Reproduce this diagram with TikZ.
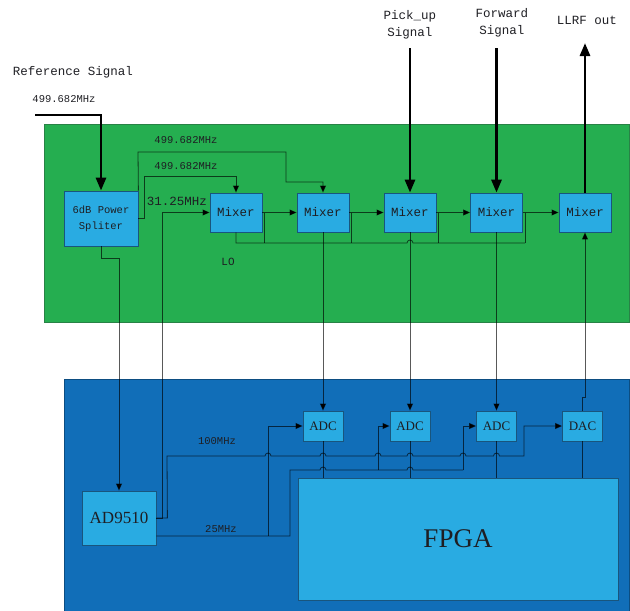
\documentclass[tikz,border=0pt]{standalone}
\usepackage{fontspec}
\setmainfont{Liberation Serif}
\newfontfamily\codefont{Liberation Mono}
\usetikzlibrary{arrows.meta,calc}
\definecolor{board}{RGB}{37,174,80}
\definecolor{boardline}{RGB}{40,130,70}
\definecolor{digital}{RGB}{17,110,184}
\definecolor{chip}{RGB}{41,171,226}
\definecolor{chipline}{RGB}{25,85,125}
\definecolor{ink}{RGB}{30,30,35}
\tikzset{
  >={Triangle[length=7pt,width=6pt]},
  chipbox/.style={draw=chipline,fill=chip,line width=0.8pt,text=ink,inner sep=0pt,
    align=center,font=\codefont\fontsize{12.5}{14}\selectfont},
  wire/.style={draw=black,draw opacity=0.65,line width=0.8pt},
  bigsig/.style={line width=2.8pt,-{Triangle[length=13pt,width=10pt]}},
  tag/.style={font=\codefont\fontsize{10.5}{12}\selectfont,text=ink},
  tag big/.style={font=\codefont\fontsize{12.5}{17}\selectfont,text=ink,align=center},
}

\begin{document}
\begin{tikzpicture}[x=1pt,y=-1pt]
  \useasboundingbox (0,0) rectangle (630,611);
  % boards
  \filldraw[fill=board,draw=boardline] (44,124) rectangle (629,322);
  \filldraw[fill=digital,draw=digital!70!black] (64,379) rectangle (629,611);

  % analog front end
  \node[chipbox,minimum width=74pt,minimum height=55pt,font=\codefont\fontsize{10.5}{16}\selectfont] (spl) at (101,218.5) {6dB Power\\Spliter};
  \foreach \n/\x in {m1/236,m2/323,m3/410,m4/496.5,m5/585}
    \node[chipbox,minimum width=52pt,minimum height=39pt] (\n) at (\x,212.5) {Mixer};

  % digital board
  \foreach \n/\x/\t in {adc1/323/ADC,adc2/410/ADC,adc3/496.5/ADC,dac/582.5/DAC}
    \node[chipbox,minimum width=40pt,minimum height=30pt,font=\fontsize{13}{14}\selectfont] (\n) at (\x,426) {\t};
  \node[chipbox,minimum width=74pt,minimum height=54pt,font=\fontsize{17}{20}\selectfont] (ad) at (119,518) {AD9510};
  \node[chipbox,minimum width=320pt,minimum height=122pt,font=\fontsize{27}{30}\selectfont] (fpga) at (458,539) {FPGA};

  % labels
  \node[tag big] (reftxt) at (73,72) {Reference Signal};
  \node[tag] (reffreq) at (64,99) {499.682MHz};
  \node[tag] (f1) at (186,140) {499.682MHz};
  \node[tag] (f2) at (186,166) {499.682MHz};
  \node[tag big] (f3) at (177,201) {31.25MHz};
  \node[tag,font=\codefont\fontsize{11}{12}\selectfont] (lotxt) at (228,262) {LO};
  \node[tag] (f4) at (217,441) {100MHz};
  \node[tag] (f5) at (221,529) {25MHz};
  \node[tag big] (putxt) at (410,24.5) {Pick\_up\\Signal};
  \node[tag big] (fwtxt) at (502,23) {Forward\\Signal};
  \node[tag big] (outtxt) at (587,20) {LLRF out};

  % external signals
  \coordinate (refin) at (35,115);
  \coordinate (puin) at (410,48);
  \coordinate (fwin) at (496.5,48);
  \coordinate (rfout) at (585,43);
  \draw[bigsig] (refin) -| (spl.north);
  \draw[bigsig] (puin) -- (m3.north);
  \draw[bigsig] (fwin) -- (m4.north);
  \draw[bigsig] (m5.north) -- (rfout);

  % splitter outputs
  \draw[wire,->] (spl.north east) -- (138,152) -- (286,152) -- (286,182) -| (m2.north);
  \draw[wire,->] (spl.east) -- ++(6,0) |- ($(m1.north)+(0,-16)$) -- (m1.north);
  \draw[wire,->] (spl.south) -- ++(0,12) -| (ad.north);

  % LO chain
  \draw[wire] (m1.south) |- (407,243) arc (180:360:3) -- (525,243);
  \foreach \a/\b in {m1/m2,m2/m3,m3/m4,m4/m5}{
    \draw[wire,->] (\a.east) -- (\b.west);
    \draw[wire] ($(\a.east)+(2,0)$) -- ++(0,30.5);
  }

  % clocks from AD9510
  \draw[wire,->] (ad.east) -- ++(6,0) |- (m1.west);
  \draw[wire,->] (ad.east) -- ++(11,0) -- (167,456)
    -- (265,456) arc (180:360:3) -- (320,456) arc (180:360:3)
    -- (375,456) arc (180:360:3) -- (407,456) arc (180:360:3)
    -- (460,456) arc (180:360:3) -- (493.5,456) arc (180:360:3)
    -- (524,456) |- (dac.west);
  \coordinate (clk) at ([yshift=-18pt]ad.east);
  \draw[wire] (clk) -| (290,470) -- (320,470) arc (180:360:3)
    -- (407,470) arc (180:360:3) -- (463,470);
  \draw[wire,->] (268,536) |- (adc1.west);
  \draw[wire,->] (378,470) |- (adc2.west);
  \draw[wire,->] (463,470) |- (adc3.west);

  % mixers to converters
  \draw[wire,->] (m2.south) -- (adc1.north);
  \draw[wire,->] (m3.south) -- (adc2.north);
  \draw[wire,->] (m4.south) -- (adc3.north);
  \draw[wire,->] (dac.north) -- ++(0,-13) -| (m5.south);
  \foreach \c in {adc1,adc2,adc3,dac}
    \draw[wire] (\c.south) -- (\c.south |- fpga.north);
\end{tikzpicture}
\end{document}
